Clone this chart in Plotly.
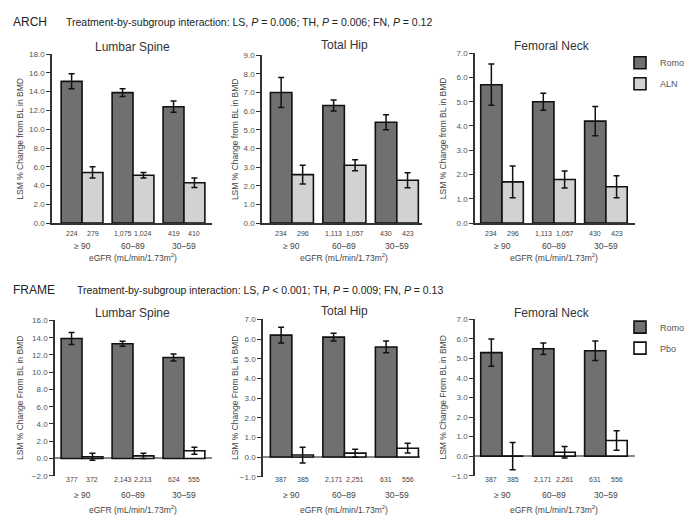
import plotly.graph_objects as go

W, H = 697, 521

# ---------------- data ----------------
groups = ["≥ 90", "60–89", "30–59"]

# ARCH
arch_ls_romo = [15.1, 13.9, 12.4]
arch_ls_romo_err = [0.8, 0.4, 0.6]
arch_ls_aln = [5.4, 5.1, 4.3]
arch_ls_aln_err = [0.6, 0.3, 0.5]
arch_ls_n = ["224", "279", "1,075", "1,024", "419", "410"]

arch_th_romo = [7.0, 6.3, 5.4]
arch_th_romo_err = [0.8, 0.3, 0.4]
arch_th_aln = [2.6, 3.1, 2.3]
arch_th_aln_err = [0.5, 0.3, 0.4]
arch_th_n = ["234", "296", "1,113", "1,057", "430", "423"]

arch_fn_romo = [5.7, 5.0, 4.2]
arch_fn_romo_err = [0.85, 0.35, 0.6]
arch_fn_aln = [1.7, 1.8, 1.5]
arch_fn_aln_err = [0.65, 0.35, 0.45]
arch_fn_n = ["234", "296", "1,113", "1,057", "430", "423"]

# FRAME
frame_ls_romo = [13.9, 13.3, 11.7]
frame_ls_romo_err = [0.7, 0.3, 0.4]
frame_ls_pbo = [0.2, 0.3, 0.9]
frame_ls_pbo_err = [0.4, 0.3, 0.4]
frame_ls_n = ["377", "372", "2,143", "2,213", "624", "555"]

frame_th_romo = [6.2, 6.1, 5.6]
frame_th_romo_err = [0.4, 0.2, 0.3]
frame_th_pbo = [0.1, 0.2, 0.45]
frame_th_pbo_err = [0.4, 0.2, 0.25]
frame_th_n = ["387", "385", "2,171", "2,251", "631", "556"]

frame_fn_romo = [5.3, 5.5, 5.4]
frame_fn_romo_err = [0.7, 0.3, 0.5]
frame_fn_pbo = [0.0, 0.2, 0.8]
frame_fn_pbo_err = [0.7, 0.3, 0.5]
frame_fn_n = ["387", "385", "2,171", "2,261", "631", "556"]

# ---------------- style ----------------
FONT = "Liberation Sans, Arial, sans-serif"
C_ROMO = "#707070"
C_ALN = "#d2d2d2"
C_PBO = "#ffffff"
AX = "#333333"
TXT = "#444444"

panels = [
    dict(row=0, title="Lumbar Spine", romo=arch_ls_romo, re=arch_ls_romo_err, comp=arch_ls_aln, ce=arch_ls_aln_err,
         cname="ALN", ccol=C_ALN, n=arch_ls_n, yr=[0, 18], dt=2, xpx=[52, 212], xr=[-0.59, 2.55], ypx=[51, 223],
         yt="LSM % Change from BL in BMD", ytx=20, tx=132, ty=44),
    dict(row=0, title="Total Hip", romo=arch_th_romo, re=arch_th_romo_err, comp=arch_th_aln, ce=arch_th_aln_err,
         cname="ALN", ccol=C_ALN, n=arch_th_n, yr=[0, 9], dt=1, xpx=[262, 422], xr=[-0.57, 2.48], ypx=[52, 223],
         yt="LSM % Change from BL in BMD", ytx=235, tx=344, ty=42),
    dict(row=0, title="Femoral Neck", romo=arch_fn_romo, re=arch_fn_romo_err, comp=arch_fn_aln, ce=arch_fn_aln_err,
         cname="ALN", ccol=C_ALN, n=arch_fn_n, yr=[0, 7], dt=1, xpx=[475, 635], xr=[-0.52, 2.56], ypx=[50, 223],
         yt="LSM % Change from BL in BMD", ytx=443, tx=552, ty=43),
    dict(row=1, title="Lumbar Spine", romo=frame_ls_romo, re=frame_ls_romo_err, comp=frame_ls_pbo, ce=frame_ls_pbo_err,
         cname="Pbo", ccol=C_PBO, n=frame_ls_n, yr=[-2, 16], dt=2, xpx=[55, 212], xr=[-0.53, 2.55], ypx=[322, 480],
         yt="LSM % Change From BL in BMD", ytx=20, tx=132, ty=314),
    dict(row=1, title="Total Hip", romo=frame_th_romo, re=frame_th_romo_err, comp=frame_th_pbo, ce=frame_th_pbo_err,
         cname="Pbo", ccol=C_PBO, n=frame_th_n, yr=[-1, 7], dt=1, xpx=[263, 420], xr=[-0.55, 2.44], ypx=[321, 481],
         yt="LSM % Change From BL in BMD", ytx=235, tx=344, ty=312),
    dict(row=1, title="Femoral Neck", romo=frame_fn_romo, re=frame_fn_romo_err, comp=frame_fn_pbo, ce=frame_fn_pbo_err,
         cname="Pbo", ccol=C_PBO, n=frame_fn_n, yr=[-1, 7], dt=1, xpx=[475, 635], xr=[-0.52, 2.56], ypx=[321, 480],
         yt="LSM % Change From BL in BMD", ytx=443, tx=552, ty=314),
]

# label rows (pixel y) per figure row: N counts, eGFR groups, axis title
label_rows = {0: (234, 246, 258), 1: (484, 500, 514)}

fig = go.Figure()
layout = dict(
    width=W, height=H, margin=dict(l=0, r=0, t=0, b=0),
    paper_bgcolor="white", plot_bgcolor="white",
    barmode="group", bargap=0.18, bargroupgap=0,
    font=dict(family=FONT, color=TXT),
    showlegend=True,
)
annotations = []


def px_x(p):
    return p / W


def px_y(p):
    return 1 - p / H


positions = [-0.205, 0.205, 0.795, 1.205, 1.795, 2.205]

for i, p in enumerate(panels, start=1):
    xa = "x" if i == 1 else f"x{i}"
    ya = "y" if i == 1 else f"y{i}"
    leg = "legend" if p["row"] == 0 else "legend2"
    first = i in (1, 4)
    fig.add_trace(go.Bar(
        x=[0, 1, 2], y=p["romo"], name="Romo", xaxis=xa, yaxis=ya,
        marker=dict(color=C_ROMO, line=dict(color="#111111", width=1.6)),
        error_y=dict(type="data", array=p["re"], color="#111111", thickness=1.5, width=3),
        showlegend=first, legend=leg, legendgroup=f"romo{p['row']}",
    ))
    fig.add_trace(go.Bar(
        x=[0, 1, 2], y=p["comp"], name=p["cname"], xaxis=xa, yaxis=ya,
        marker=dict(color=p["ccol"], line=dict(color="#111111", width=1.6)),
        error_y=dict(type="data", array=p["ce"], color="#111111", thickness=1.5, width=3),
        showlegend=first, legend=leg, legendgroup=f"comp{p['row']}",
    ))
    top_row = p["row"] == 0
    layout["xaxis" if i == 1 else f"xaxis{i}"] = dict(
        domain=[px_x(p["xpx"][0]), px_x(p["xpx"][1])], anchor=ya, range=p["xr"],
        showticklabels=False, ticks="", showgrid=False, zeroline=False,
        showline=top_row, linecolor=AX, linewidth=2, fixedrange=True,
    )
    layout["yaxis" if i == 1 else f"yaxis{i}"] = dict(
        domain=[px_y(p["ypx"][1]), px_y(p["ypx"][0])], anchor=xa, range=p["yr"],
        dtick=p["dt"], tick0=0, tickformat=".1f", ticks="outside", ticklen=4,
        tickwidth=1.3, tickcolor=AX, showline=True, linecolor=AX, linewidth=1.5,
        tickfont=dict(size=8, color="#555555"), showgrid=False,
        zeroline=not top_row, zerolinecolor="#8a8a8a", zerolinewidth=2,
        fixedrange=True,
    )
    # panel title
    annotations.append(dict(text=p["title"], x=px_x(p["tx"]), y=px_y(p["ty"]), xref="paper", yref="paper",
                            showarrow=False, font=dict(size=12, color="#333333"), xanchor="center", yanchor="middle"))
    # y title
    mid = (p["ypx"][0] + p["ypx"][1]) / 2
    annotations.append(dict(text=p["yt"], x=px_x(p["ytx"]), y=px_y(mid), xref="paper", yref="paper",
                            showarrow=False, textangle=-90, font=dict(size=8.5, color=TXT),
                            xanchor="center", yanchor="middle"))
    ny, gy, ey = label_rows[p["row"]]
    # N counts under each bar
    for pos, lab in zip(positions, p["n"]):
        annotations.append(dict(text=lab, x=pos, xref=xa, y=px_y(ny), yref="paper",
                                showarrow=False, font=dict(size=7, color=TXT), xanchor="center", yanchor="middle"))
    # group labels
    for g, lab in enumerate(groups):
        annotations.append(dict(text=lab, x=g, xref=xa, y=px_y(gy), yref="paper",
                                showarrow=False, font=dict(size=8.5, color=TXT), xanchor="center", yanchor="middle"))
    annotations.append(dict(text="eGFR (mL/min/1.73m<sup>2</sup>)", x=1, xref=xa, y=px_y(ey),
                            yref="paper", showarrow=False, font=dict(size=8.5, color=TXT),
                            xanchor="center", yanchor="middle"))

# section headers
annotations.append(dict(text="ARCH", x=px_x(11), y=px_y(18), xref="paper", yref="paper", showarrow=False,
                        xanchor="left", yanchor="middle", font=dict(size=12, color="#222222")))
annotations.append(dict(text="Treatment-by-subgroup interaction: LS, <i>P</i> = 0.006; TH, <i>P</i> = 0.006; FN, <i>P</i> = 0.12",
                        x=px_x(64), y=px_y(18), xref="paper", yref="paper", showarrow=False,
                        xanchor="left", yanchor="middle", font=dict(size=10.5, color="#222222")))
annotations.append(dict(text="FRAME", x=px_x(11), y=px_y(291), xref="paper", yref="paper", showarrow=False,
                        xanchor="left", yanchor="middle", font=dict(size=12, color="#222222")))
annotations.append(dict(text="Treatment-by-subgroup interaction: LS, <i>P</i> &lt; 0.001; TH, <i>P</i> = 0.009; FN, <i>P</i> = 0.13",
                        x=px_x(75), y=px_y(291), xref="paper", yref="paper", showarrow=False,
                        xanchor="left", yanchor="middle", font=dict(size=10.5, color="#222222")))

layout["annotations"] = annotations
layout["legend"] = dict(x=px_x(620), y=px_y(45), xanchor="left", yanchor="top", bgcolor="rgba(0,0,0,0)",
                        font=dict(size=9, color="#555555"), traceorder="grouped", tracegroupgap=2,
                        itemwidth=30)
layout["legend2"] = dict(x=px_x(620), y=px_y(314), xanchor="left", yanchor="top", bgcolor="rgba(0,0,0,0)",
                         font=dict(size=9, color="#555555"), traceorder="grouped", tracegroupgap=2,
                         itemwidth=30)

fig.update_layout(**layout)
fig.write_html("out.html", config={"displayModeBar": False},
               post_script="document.body.style.margin='0px';")
